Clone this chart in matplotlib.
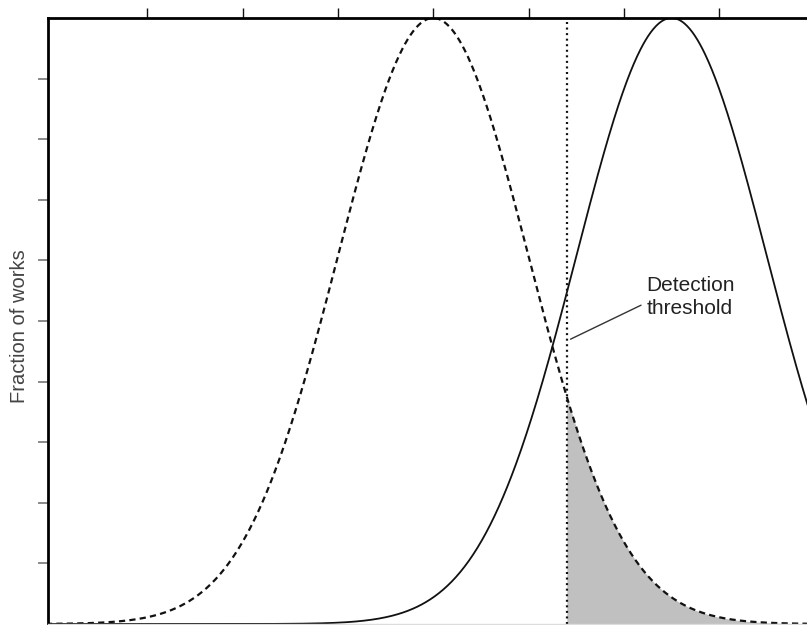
import numpy as np
import matplotlib.pyplot as plt

# two normal distributions (mean, sd) and the detection cut-off
means = [4.0, 6.5]
sds = [1.0, 1.0]
styles = [(0, (2.8, 1.9)), "-"]
widths = [1.6, 1.3]
threshold = 5.4
x_ticks = [1, 2, 3, 4, 5, 6, 7]
y_ticks = [0.1, 0.2, 0.3, 0.4, 0.5, 0.6, 0.7, 0.8, 0.9]

plt.rcParams["font.family"] = ["Liberation Sans", "DejaVu Sans"]

fig = plt.figure(figsize=(8.07, 6.25), dpi=100)
ax = fig.add_axes([48 / 807, 1 / 625, 759 / 807, 606 / 625])

x = np.linspace(-0.5, 8.5, 1000)
curves = []
for m, s, ls, lw in zip(means, sds, styles, widths):
    y = np.exp(-0.5 * ((x - m) / s) ** 2)
    curves.append(y)
    ax.plot(x, y, color="#111111", lw=lw, ls=ls)

# shaded tail of the first curve beyond the threshold
mask = x >= threshold
ax.fill_between(x[mask], 0, curves[0][mask], color="#c0c0c0", lw=0, zorder=0)
ax.axvline(threshold, color="#111111", lw=1.6, ls=(0, (0.9, 1.6)))

ax.annotate("Detection\nthreshold", xy=(threshold + 0.04, 0.47),
            xytext=(6.235, 0.54), fontsize=15, color="#222222",
            linespacing=1.28, ha="left", va="center",
            arrowprops=dict(arrowstyle="-", color="#333333", lw=1,
                            shrinkA=0, shrinkB=0,
                            relpos=(-0.06, 0.3)))

ax.set_xlim(-0.04, 7.92)
ax.set_ylim(0, 1)
ax.set_xticks(x_ticks)
ax.set_yticks(y_ticks)
ax.xaxis.tick_top()
ax.tick_params(axis="x", direction="out", length=7.5, width=1,
               color="#111111", labeltop=False, labelbottom=False)
ax.tick_params(axis="y", direction="out", length=7.5, width=1.2,
               color="#777777", labelleft=False)
ax.spines["right"].set_visible(False)
ax.spines["left"].set_linewidth(2)
ax.spines["top"].set_linewidth(2)
ax.spines["bottom"].set_color("#dddddd")
ax.spines["bottom"].set_linewidth(1)

fig.text(20 / 807, 1 - 326 / 625, "Fraction of works", rotation=90,
         fontsize=14.5, color="#444444", ha="center", va="center")

fig.savefig("out.png", dpi=100)
